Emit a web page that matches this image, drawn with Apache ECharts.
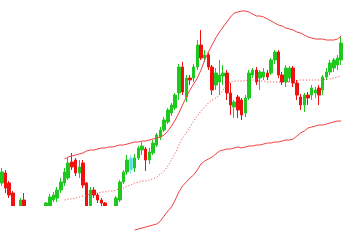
<!DOCTYPE html>
<html>
<head>
<meta charset="utf-8">
<script src="https://cdn.jsdelivr.net/npm/echarts@6/dist/echarts.min.js"></script>
<style>html,body{margin:0;padding:0;background:#fff}#c{width:343px;height:250px}</style>
</head>
<body>
<div id="c"></div>
<script>
// candles: [open, close, low, high]
var opens  = [67,77,67,57,40,43,50,40,34,30,36,33,40,44,50,52,60,67,72,88,90,77,87,67,44,60,55,50,47,42,38,42,50,68,78,80,82,92,100,101,90,97,105,113,120,128,137,142,157,183,153,172,172,183,205,192,195,183,165,168,174,177,157,143,153,150,137,152,175,180,172,173,177,177,190,198,175,168,172,182,167,153,145,155,155,157,162,160,173,178,182,185,190];
var closes = [78,62,55,40,32,50,40,34,30,36,33,40,47,53,55,60,68,78,87,83,77,83,65,43,60,55,50,47,44,38,42,52,68,78,90,92,92,102,104,90,98,107,115,120,130,140,145,155,183,158,172,170,183,205,192,195,183,160,177,175,177,157,145,148,140,135,152,177,180,168,178,178,173,190,198,175,168,182,182,167,155,145,155,152,162,160,155,173,178,187,190,192,207];
var lows   = [64,57,52,36,28,40,37,30,26,25,28,30,38,42,48,48,57,64,70,80,74,72,62,38,40,52,47,44,40,34,35,40,48,66,75,76,78,90,95,79,86,95,103,110,118,126,134,140,150,155,148,165,168,180,190,188,180,155,160,155,165,150,135,132,132,130,133,150,172,165,160,170,170,175,186,172,165,163,168,163,150,140,138,145,150,152,145,155,170,175,178,180,185];
var highs  = [82,80,69,59,43,52,57,43,40,40,41,43,48,56,58,63,72,82,92,97,92,90,90,68,63,63,57,52,48,43,43,54,70,80,95,95,96,104,108,103,102,110,117,123,133,142,147,157,186,188,175,175,186,210,220,200,197,185,182,190,185,180,167,150,155,152,155,180,182,183,180,182,180,192,200,200,178,185,184,184,170,156,157,158,165,163,165,175,182,190,192,195,213];
var upperBand = [null,null,null,null,null,null,null,null,null,null,null,null,null,null,null,null,null,
  91,93,94,95,96,97,99,100,100,101,102,102,103,103,104,105,105,106,107,108,108,109,109,110,111,112,113,115,119,124,130,137,145,153,160,166,172,180,190,198,205,212,218,223,228,233,237,238,239,239,238,236,234,234,233,231,229,227,225,224,222,221,220,218,217,215,213,212,211,211,211,210,210,210,211,214];
var middleBand = [null,null,null,null,null,null,null,null,null,null,null,null,null,null,null,null,null,
  50,51,51,52,53,54,55,56,57,57,58,58,59,59,60,61,62,64,65,67,68,69,69,70,71,73,76,79,84,90,97,105,112,117,123,129,134,139,143,147,150,152,155,160,165,168,169,169,169,169,170,170,170,169,169,168,168,168,168,168,168,168,169,169,170,170,170,170,170,170,170,171,171,172,173,174];
var lowerBand = [null,null,null,null,null,null,null,null,null,null,null,null,null,null,null,null,null,null,null,null,null,null,null,null,null,null,null,null,null,null,null,null,null,null,null,null,
  20,21,22,23,24,25,26,29,34,39,43,50,58,64,68,72,75,80,86,89,91,93,96,99,100,101,101,102,103,102,103,104,104,105,105,106,107,107,108,108,109,110,110,111,114,117,119,122,123,124,125,125,126,127,128,129,129];
var specialIndex = 35; // pale cyan candle
var categories = opens.map(function(_, i){ return 'D' + (i + 1); });

var candleData = opens.map(function(o, i){
  var item = { value: [o, closes[i], lows[i], highs[i]] };
  if (i === specialIndex) {
    item.itemStyle = { color: '#4fdbe8', color0: '#4fdbe8', borderColor: '#8feaf2', borderColor0: '#8feaf2' };
  }
  return item;
});

var chart = echarts.init(document.getElementById('c'), null, { renderer: 'canvas' });
chart.setOption({
  animation: false,
  backgroundColor: '#ffffff',
  grid: { left: 0, right: 0, top: 0, bottom: 44 },
  xAxis: {
    type: 'category', data: categories, boundaryGap: true,
    axisLine: { show: false }, axisTick: { show: false }, axisLabel: { show: false }, splitLine: { show: false }
  },
  yAxis: {
    type: 'value', min: 44, max: 250, scale: true,
    axisLine: { show: false }, axisTick: { show: false }, axisLabel: { show: false }, splitLine: { show: false }
  },
  graphic: [{
    type: 'rect', z: 2, left: 0, top: 206,
    shape: { width: 343, height: 44 },
    style: { fill: '#ffffff' }, silent: true
  }],
  series: [
    {
      type: 'candlestick', data: candleData, barWidth: 3, clip: true, z: 1,
      itemStyle: { color: '#1ec81e', color0: '#f01010', borderColor: '#1ec81e', borderColor0: '#f01010', borderWidth: 1 }
    },
    { type: 'line', data: upperBand, symbol: 'none', clip: false, lineStyle: { color: '#f04040', width: 1 }, z: 3 },
    { type: 'line', data: middleBand, symbol: 'none', clip: false, lineStyle: { color: '#f04040', width: 1, type: [1, 2] }, z: 3 },
    { type: 'line', data: lowerBand, symbol: 'none', clip: false, lineStyle: { color: '#f04040', width: 1 }, z: 3 }
  ]
});
</script>
</body>
</html>
